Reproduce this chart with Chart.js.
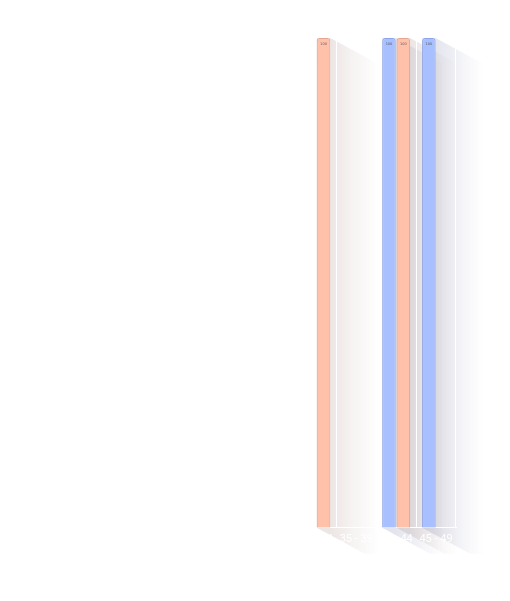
<!DOCTYPE html>
<html>
<head>
<meta charset="utf-8">
<script src="https://cdn.jsdelivr.net/npm/chart.js@4.4.1/dist/chart.umd.min.js"></script>
<style>
  html, body { margin: 0; padding: 0; background: #ffffff; }
  #wrap { width: 510px; height: 601px; position: relative; }
</style>
</head>
<body>
<div id="wrap"><canvas id="chart"></canvas></div>
<script>
// age groups along the x axis
const ageGroups = ['0 - 4', '5 - 9', '10 - 14', '15 - 19', '20 - 24',
                   '25 - 29', '30 - 34', '35 - 39', '40 - 44', '45 - 49'];
// only four bars show up in the picture, all reaching the top of the axis
const maleValues   = [0, 0, 0, 0, 0, 0, 0, 0, 100, 100];
const femaleValues = [0, 0, 0, 0, 0, 0, 100, 0, 100, 0];
const yMax = 100;

const blue = 'rgb(168, 192, 255)';
const orange = 'rgb(255, 193, 170)';

// long diagonal shadow behind every bar, drawn before grid and ticks
const longShadow = {
    id: 'longShadow',
    beforeDraw(chart) {
        const ctx = chart.ctx;
        const tints = ['90, 100, 150', '140, 105, 95'];
        chart.data.datasets.forEach((ds, di) => {
            const meta = chart.getDatasetMeta(di);
            meta.data.forEach(bar => {
                const p = bar.getProps(['x', 'y', 'base', 'width'], true);
                if (Math.abs(p.base - p.y) < 1) return;
                const l = p.x - p.width / 2, r = p.x + p.width / 2;
                const t = Math.min(p.y, p.base), b = Math.max(p.y, p.base);
                const dx = 48, dy = 26;
                const g = ctx.createLinearGradient(r, 0, r + dx, 0);
                g.addColorStop(0, 'rgba(' + tints[di] + ', 0.17)');
                g.addColorStop(0.6, 'rgba(' + tints[di] + ', 0.06)');
                g.addColorStop(1, 'rgba(' + tints[di] + ', 0)');
                ctx.save();
                ctx.fillStyle = g;
                ctx.beginPath();
                ctx.moveTo(l, t);
                ctx.lineTo(r, t);
                ctx.lineTo(r + dx, t + dy);
                ctx.lineTo(r + dx, b + dy);
                ctx.lineTo(l + dx, b + dy);
                ctx.lineTo(l, b);
                ctx.closePath();
                ctx.fill();
                ctx.restore();
            });
        });
    },
    afterDatasetsDraw(chart) {
        const ctx = chart.ctx;
        chart.data.datasets.forEach((ds, di) => {
            const meta = chart.getDatasetMeta(di);
            meta.data.forEach((bar, i) => {
                const p = bar.getProps(['x', 'y', 'base'], true);
                if (Math.abs(p.base - p.y) < 1) return;
                ctx.save();
                ctx.fillStyle = 'rgba(60, 60, 70, 0.8)';
                ctx.font = '3.5px "DejaVu Sans"';
                ctx.textAlign = 'center';
                ctx.textBaseline = 'middle';
                ctx.fillText(ds.data[i], p.x, p.y + 6);
                ctx.restore();
            });
        });
    }
};

new Chart(document.getElementById('chart'), {
    type: 'bar',
    data: {
        labels: ageGroups,
        datasets: [
            { label: 'Male', data: maleValues, backgroundColor: blue,
              borderColor: 'rgb(140, 162, 235)' },
            { label: 'Female', data: femaleValues, backgroundColor: orange,
              borderColor: 'rgb(228, 165, 145)' }
        ]
    },
    options: {
        responsive: true,
        maintainAspectRatio: false,
        animation: false,
        layout: { padding: { left: 57, right: 54, top: 38, bottom: 50 } },
        datasets: {
            bar: {
                borderWidth: 1,
                borderRadius: { topLeft: 3, topRight: 3 },
                borderSkipped: 'bottom',
                categoryPercentage: 0.72,
                barPercentage: 0.94
            }
        },
        plugins: {
            legend: { display: false },
            tooltip: { enabled: false }
        },
        scales: {
            x: {
                grid: { color: '#ffffff', lineWidth: 1, drawTicks: false, offset: true },
                border: { color: '#ffffff' },
                ticks: {
                    color: '#ffffff',
                    padding: 5,
                    maxRotation: 0,
                    autoSkip: false,
                    font: { family: 'Roboto', size: 11 }
                }
            },
            y: {
                display: false,
                min: 0,
                max: yMax
            }
        }
    },
    plugins: [longShadow]
});
</script>
</body>
</html>
